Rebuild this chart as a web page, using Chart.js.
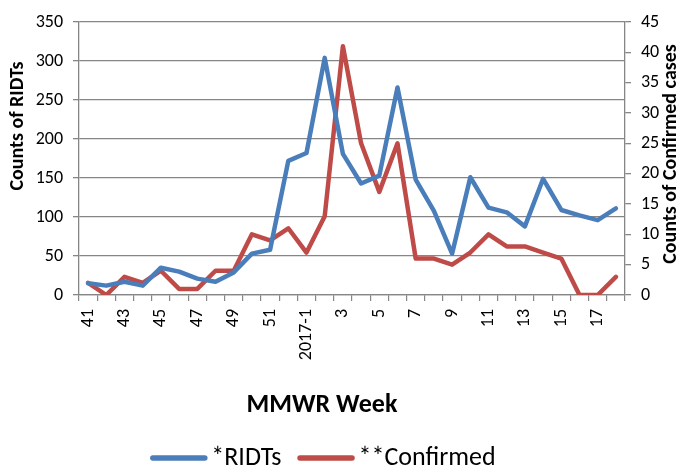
<!DOCTYPE html>
<html>
<head>
<meta charset="utf-8">
<script src="https://cdn.jsdelivr.net/npm/chart.js@4"></script>
<style>
  html, body { margin: 0; padding: 0; background: #fff; }
  #wrap { width: 683px; height: 466px; }
</style>
</head>
<body>
<div id="wrap"><canvas id="c" width="683" height="466"></canvas></div>
<script>
const weeks = ['41','42','43','44','45','46','47','48','49','50','51','52','2017-1','2','3','4','5','6','7','8','9','10','11','12','13','14','15','16','17','18'];
const ridts = [15,12,17,12,35,30,21,17,29,53,58,172,182,304,181,143,153,266,148,108,53,151,112,106,88,149,109,102,96,111];
const confirmed = [2,0,3,2,4,1,1,4,4,10,9,11,7,13,41,25,17,25,6,6,5,7,10,8,8,7,6,0,0,3];
const leftTicks = [0,50,100,150,200,250,300,350];
const rightTicks = [0,5,10,15,20,25,30,35,40,45];
const leftTitle = 'Counts of RIDTs';
const rightTitleText = 'Counts of Confirmed cases';
const xTitle = 'MMWR Week';

const FONT = "'Carlito', 'Liberation Sans', Arial, sans-serif";
const GRID = '#868686';
const BLUE = '#4a7ebb';
const RED = '#be4b48';

const axisTitles = {
  id: 'axisTitles',
  afterDraw(chart) {
    const ctx = chart.ctx;
    ctx.save();
    ctx.fillStyle = '#000';
    ctx.textAlign = 'center';
    ctx.textBaseline = 'middle';
    ctx.font = "bold 26px " + FONT;
    ctx.fillText(xTitle, 322, 405);
    ctx.font = "bold 20px " + FONT;
    ctx.save();
    ctx.translate(18, 126);
    ctx.rotate(-Math.PI / 2);
    ctx.fillText(leftTitle, 0, 0);
    ctx.restore();
    ctx.translate(671, 154);
    ctx.rotate(-Math.PI / 2);
    ctx.fillText(rightTitleText, 0, 0);
    ctx.restore();
  }
};

// Legend drawn from the chart's datasets (line swatch + label)
const lineLegend = {
  id: 'lineLegend',
  afterDraw(chart) {
    const ctx = chart.ctx;
    const sw = 57, gap = 4, itemGap = 16, cy = 458, centerX = 323;
    ctx.save();
    ctx.font = "26px " + FONT;
    ctx.textBaseline = 'middle';
    ctx.textAlign = 'left';
    const items = chart.data.datasets.map(d => ({ text: d.label, color: d.borderColor, w: ctx.measureText(d.label).width }));
    const total = items.reduce((s, it) => s + sw + gap + it.w, 0) + itemGap * (items.length - 1);
    let x = centerX - total / 2;
    items.forEach(it => {
      ctx.strokeStyle = it.color;
      ctx.lineWidth = 5.5;
      ctx.lineCap = 'round';
      ctx.beginPath();
      ctx.moveTo(x + 2.5, cy);
      ctx.lineTo(x + sw - 2.5, cy);
      ctx.stroke();
      ctx.fillStyle = '#000';
      ctx.fillText(it.text, x + sw + gap, cy);
      x += sw + gap + it.w + itemGap;
    });
    ctx.restore();
  }
};

new Chart(document.getElementById('c'), {
  type: 'line',
  data: {
    labels: weeks,
    datasets: [
      { label: '*RIDTs', data: ridts, yAxisID: 'y', borderColor: BLUE, backgroundColor: BLUE,
        borderWidth: 4.5, pointRadius: 0, tension: 0, borderJoinStyle: 'round', borderCapStyle: 'round' },
      { label: '**Confirmed', data: confirmed, yAxisID: 'y2', borderColor: RED, backgroundColor: RED,
        borderWidth: 4.5, pointRadius: 0, tension: 0, borderJoinStyle: 'round', borderCapStyle: 'round' }
    ]
  },
  options: {
    responsive: false,
    animation: false,
    layout: { padding: { top: 22, left: 0, right: 0, bottom: 0 } },
    plugins: {
      tooltip: { enabled: false },
      legend: { display: false }
    },
    scales: {
      x: {
        offset: true,
        grid: { offset: true, drawOnChartArea: false, drawTicks: true, tickLength: 6, color: GRID, lineWidth: 1.2 },
        border: { color: GRID, width: 1.3 },
        ticks: {
          autoSkip: false, maxRotation: 90, minRotation: 90, padding: 8,
          font: { family: FONT, size: 18 }, color: '#000',
          callback(v, i) { return i % 2 === 0 ? weeks[i] : ''; }
        },
        afterFit(s) { s.height = 171; }
      },
      y: {
        position: 'left',
        min: 0, max: 350,
        afterBuildTicks(s) { s.ticks = leftTicks.map(v => ({ value: v })); },
        grid: { color: GRID, lineWidth: 1.3, tickLength: 6 },
        border: { color: GRID, width: 1.3 },
        ticks: { font: { family: FONT, size: 18 }, color: '#000', padding: 10 },
        afterFit(s) { s.width = 79; }
      },
      y2: {
        position: 'right',
        min: 0, max: 45,
        afterBuildTicks(s) { s.ticks = rightTicks.map(v => ({ value: v })); },
        grid: { drawOnChartArea: false, color: GRID, lineWidth: 1.3, tickLength: 6 },
        border: { color: GRID, width: 1.3 },
        ticks: { font: { family: FONT, size: 18 }, color: '#000', padding: 10 },
        afterFit(s) { s.width = 58; }
      }
    }
  },
  plugins: [axisTitles, lineLegend]
});
</script>
</body>
</html>
